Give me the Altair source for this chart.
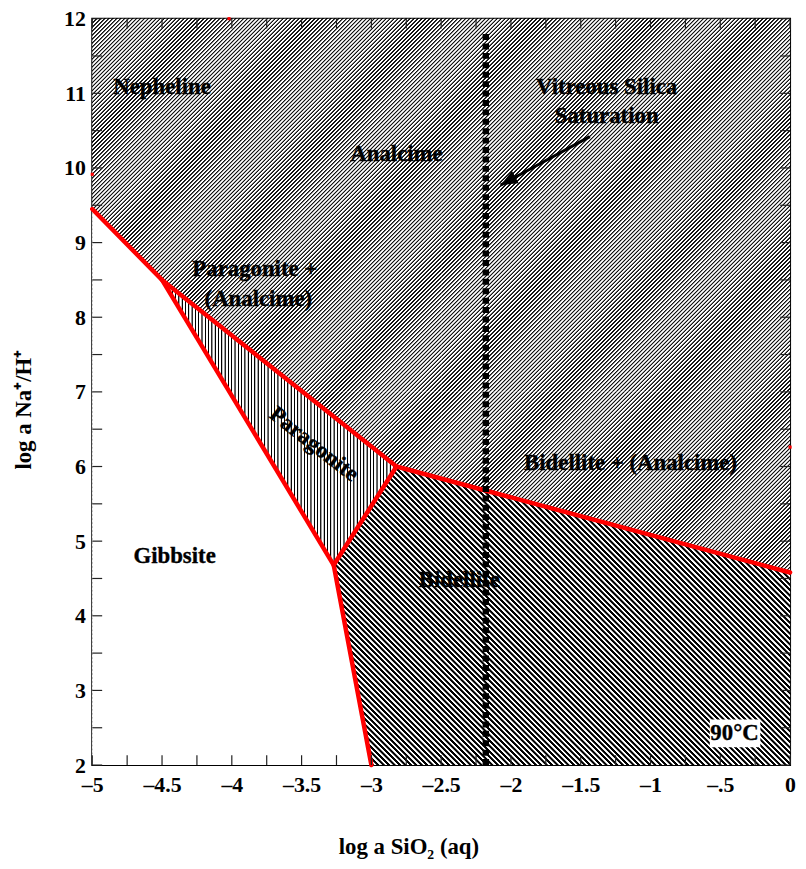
import math
import altair as alt
import pandas as pd

# ---------------- data ----------------
W, H = 704, 753
XMIN, XMAX, YMIN, YMAX = -5.0, 0.0, 2.0, 12.0

# light-hatched field fills the frame; the other fields are laid over it
tile_x = [-5.0, -2.5, 0.0]
tile_y = [2.0, 7.0, 12.0]
# upper edge of the Paragonite field (boundary with Paragonite + (Analcime))
parag_x = [-4.5, -2.82]
parag_y = [8.5, 6.0]
# upper edge of the Bidellite field
bidel_x = [-3.27, -2.82, 0.0]
bidel_y = [4.68, 6.0, 4.58]
# upper edge of the Gibbsite field
gibb_x = [-5.0, -4.5, -3.27, -3.0]
gibb_y = [9.45, 8.5, 4.68, 2.0]

# red phase boundaries (three polylines)
bound_id = [0, 0, 0, 0, 1, 1, 1, 2, 2]
bound_x = [-5.0, -4.5, -2.82, 0.0, -4.5, -3.27, -3.0, -3.27, -2.82]
bound_y = [9.45, 8.5, 6.0, 4.58, 8.5, 4.68, 2.0, 4.68, 6.0]

# small red stubs at the frame
stub_x = [-4.02, -5.0, 0.0]
stub_y = [12.0, 9.915, 6.26]

# vitreous silica saturation
silica_x = -2.18
silica_y = [2.0, 11.82]

# arrow
arrow_x = [-1.435, -2.074]
arrow_y = [10.42, 9.77]

labels = ["Nepheline", "Analcime", "Vitreous Silica", "Saturation", "Paragonite +",
          "(Analcime)", "Gibbsite", "Bidellite", "Bidellite + (Analcime)"]
label_x = [-4.50, -2.82, -1.314, -1.314, -3.835, -3.81, -4.41, -2.37, -1.143]
label_y = [11.08, 10.18, 11.08, 10.70, 8.64, 8.24, 4.80, 4.48, 6.04]

rot_label = ["Paragonite"]
rot_x = [-3.41]
rot_y = [6.30]

temp_label = ["90°C"]
temp_x = [-0.398]
temp_y = [2.425]
temp_box_x = [-0.575, -0.213]
temp_box_y = [2.24, 2.61]

x_label_values = [-5, -4.5, -4, -3.5, -3, -2.5, -2, -1.5, -1, -0.5, 0]
y_label_values = [2, 3, 4, 5, 6, 7, 8, 9, 10, 11, 12]
x_tick_values = [-5, -4.75, -4.5, -4.25, -4, -3.75, -3.5, -3.25, -3, -2.75, -2.5,
                 -2.25, -2, -1.75, -1.5, -1.25, -1, -0.75, -0.5, -0.25, 0]
y_tick_values = [2, 2.5, 3, 3.5, 4, 4.5, 5, 5.5, 6, 6.5, 7, 7.5, 8, 8.5, 9, 9.5,
                 10, 10.5, 11, 11.5, 12]

FONT = "Liberation Serif"
FS = 23      # annotations and titles
FS_TICK = 22

# ---------------- helpers ----------------
sx = W / (XMAX - XMIN)
sy = H / (YMAX - YMIN)


def stripe_stops(n, frac, soft, dark, light):
    stops = []
    for i in range(n):
        a = i / n
        stops += [alt.GradientStop(color=dark, offset=a),
                  alt.GradientStop(color=dark, offset=(i + frac) / n),
                  alt.GradientStop(color=light, offset=(i + frac + soft) / n),
                  alt.GradientStop(color=light, offset=(i + 1 - soft) / n)]
    stops.append(alt.GradientStop(color=dark, offset=1.0))
    return stops


def hatch(kind, bw, bh, period, frac, soft, dark="#000000", light="#ffffff"):
    """Stripe fill for a mark whose bounding box is bw x bh pixels."""
    if kind == "vertical":
        n = max(1, int(round(bw / period)))
        return alt.Gradient(gradient="linear", x1=0, y1=0, x2=1, y2=0,
                            stops=stripe_stops(n, frac, soft, dark, light))
    m = max(1, int(round(bw / period)))
    q = max(1, int(round(bh / period)))
    n = m + q
    c = n / (m * m + q * q)
    if kind == "slash":
        x1, y1, x2, y2 = 0, 0, m * c, q * c
    else:
        x1, y1, x2, y2 = 0, 1, m * c, 1 - q * c
    return alt.Gradient(gradient="linear", x1=x1, y1=y1, x2=x2, y2=y2,
                        stops=stripe_stops(n, frac, soft, dark, light))


xs = alt.Scale(domain=[XMIN, XMAX], nice=False, zero=False)
ys = alt.Scale(domain=[YMIN, YMAX], nice=False, zero=False)

xlab_expr = ("datum.value == 0 ? '0' : datum.value == -0.5 ? '\u2013.5' : "
             "'\u2013' + format(-datum.value, '.1~f')")

X = alt.X("x:Q", scale=xs, axis=alt.Axis(
    values=x_label_values, ticks=False, domain=False, grid=False,
    labelExpr=xlab_expr, labelFont=FONT, labelFontSize=FS_TICK, labelFontWeight="bold",
    labelColor="black", labelPadding=10, labelFlush=False, labelOverlap=False,
    title="log a SiO\u2082 (aq)", titleFont=FONT, titleFontSize=FS, titleFontWeight="bold",
    titleColor="black", titleX=319, titleY=89, titleBaseline="alphabetic",
    titleAlign="center"))
Y = alt.Y("y:Q", scale=ys, axis=alt.Axis(
    values=y_label_values, format="d", ticks=False, domain=False, grid=False,
    labelFont=FONT, labelFontSize=FS_TICK, labelFontWeight="bold", labelColor="black",
    labelPadding=7, labelFlush=False, labelOverlap=False,
    title="log a Na\u207a/H\u207a", titleFont=FONT, titleFontSize=FS, titleFontWeight="bold",
    titleColor="black", titleX=-62, titleY=394, titleAngle=-90, titleBaseline="alphabetic",
    titleAlign="center"))

# ---------------- fields ----------------
tiles = pd.DataFrame([{"x": tile_x[i], "x2": tile_x[i + 1], "y": tile_y[j], "y2": tile_y[j + 1]}
                      for i in range(len(tile_x) - 1) for j in range(len(tile_y) - 1)])
tw = (tile_x[1] - tile_x[0]) * sx
th = (tile_y[1] - tile_y[0]) * sy
upper = alt.Chart(tiles).mark_rect(
    color=hatch("slash", tw, th, 4.0, 0.26, 0.17, dark="#111111"), opacity=1,
    strokeWidth=0).encode(x=X, x2="x2:Q", y=Y, y2="y2:Q")

par_w = (parag_x[-1] - parag_x[0]) * sx
par_h = (max(parag_y) - YMIN) * sy
parag = alt.Chart(pd.DataFrame({"x": parag_x, "y": parag_y})).mark_area(
    color=hatch("vertical", par_w, par_h, 10 / 3, 0.2, 0.14), opacity=1
).encode(x="x:Q", y="y:Q", y2=alt.datum(YMIN))

bid_w = (bidel_x[-1] - bidel_x[0]) * sx
bid_h = (max(bidel_y) - YMIN) * sy
bidel = alt.Chart(pd.DataFrame({"x": bidel_x, "y": bidel_y})).mark_area(
    color=hatch("back", bid_w, bid_h, 5.5, 0.42, 0.12), opacity=1
).encode(x="x:Q", y="y:Q", y2=alt.datum(YMIN))

gibb = alt.Chart(pd.DataFrame({"x": gibb_x, "y": gibb_y})).mark_area(
    color="white", opacity=1).encode(x="x:Q", y="y:Q", y2=alt.datum(YMIN))

# ---------------- lines ----------------
bdf = pd.DataFrame({"x": bound_x, "y": bound_y, "g": bound_id, "o": list(range(len(bound_x)))})
bounds = alt.Chart(bdf).mark_line(color="#ff0000", strokeWidth=4.5, strokeJoin="round",
                                  strokeCap="round").encode(
    x="x:Q", y="y:Q", detail="g:N", order="o:Q")

stubs = alt.Chart(pd.DataFrame({"x": stub_x, "y": stub_y})).mark_point(
    shape="square", filled=True, color="#ff0000", size=10, opacity=1).encode(x="x:Q", y="y:Q")

silica = alt.Chart(pd.DataFrame({"x": [silica_x], "y": [silica_y[0]], "y2": [silica_y[1]]})).mark_rule(
    color="black", strokeWidth=6.5, strokeDash=[6, 3.5]).encode(x="x:Q", y="y:Q", y2="y2:Q")

adf = pd.DataFrame({"x": arrow_x, "y": arrow_y, "o": [0, 1]})
arrow_line = alt.Chart(adf).mark_line(color="black", strokeWidth=3).encode(
    x="x:Q", y="y:Q", order="o:Q")
dxp = (arrow_x[1] - arrow_x[0]) * sx
dyp = -(arrow_y[1] - arrow_y[0]) * sy
ang = (math.degrees(math.atan2(dxp, -dyp)) + 360) % 360
arrow_head = alt.Chart(pd.DataFrame({"x": [arrow_x[1]], "y": [arrow_y[1]]})).mark_point(
    shape="M0,0L0.5,1.2L-0.5,1.2Z", filled=True, color="black", opacity=1, size=800,
    angle=ang).encode(x="x:Q", y="y:Q")

# ---------------- text ----------------
tstyle = dict(font=FONT, fontSize=FS, fontWeight="bold", color="black", align="center",
              baseline="middle", stroke="black", strokeWidth=0.35)
txt = alt.Chart(pd.DataFrame({"x": label_x, "y": label_y, "t": labels})).mark_text(
    **tstyle).encode(x="x:Q", y="y:Q", text="t:N")
rot = alt.Chart(pd.DataFrame({"x": rot_x, "y": rot_y, "t": rot_label})).mark_text(
    angle=38, **tstyle).encode(x="x:Q", y="y:Q", text="t:N")
box = alt.Chart(pd.DataFrame({"x": [temp_box_x[0]], "x2": [temp_box_x[1]],
                              "y": [temp_box_y[0]], "y2": [temp_box_y[1]]})).mark_rect(
    color="white", opacity=1).encode(x="x:Q", x2="x2:Q", y="y:Q", y2="y2:Q")
temp = alt.Chart(pd.DataFrame({"x": temp_x, "y": temp_y, "t": temp_label})).mark_text(
    **tstyle).encode(x="x:Q", y="y:Q", text="t:N")

# ---------------- inward ticks ----------------
xt = pd.DataFrame({"x": x_tick_values})
yt = pd.DataFrame({"y": y_tick_values})
TK = 10
tcol = "#222222"
t_bottom = alt.Chart(xt).mark_rule(color=tcol, strokeWidth=1.2).encode(
    x="x:Q", y=alt.value(H), y2=alt.value(H - TK))
t_top = alt.Chart(xt).mark_rule(color=tcol, strokeWidth=1.2).encode(
    x="x:Q", y=alt.value(0), y2=alt.value(TK))
t_left = alt.Chart(yt).mark_rule(color=tcol, strokeWidth=1.2).encode(
    y="y:Q", x=alt.value(0), x2=alt.value(TK))
t_right = alt.Chart(yt).mark_rule(color=tcol, strokeWidth=1.2).encode(
    y="y:Q", x=alt.value(W), x2=alt.value(W - TK))

chart = alt.layer(
    upper, parag, bidel, gibb, bounds, silica, stubs, arrow_line, arrow_head,
    txt, rot, box, temp, t_bottom, t_top, t_left, t_right
).properties(
    width=W, height=H,
    autosize=alt.AutoSizeParams(type="none"),
    padding={"left": 85, "top": 7, "right": 8, "bottom": 92},
    background="white",
).configure_view(stroke="black", strokeWidth=2)

chart.save("out.html", embed_options={"renderer": "svg", "actions": False})
